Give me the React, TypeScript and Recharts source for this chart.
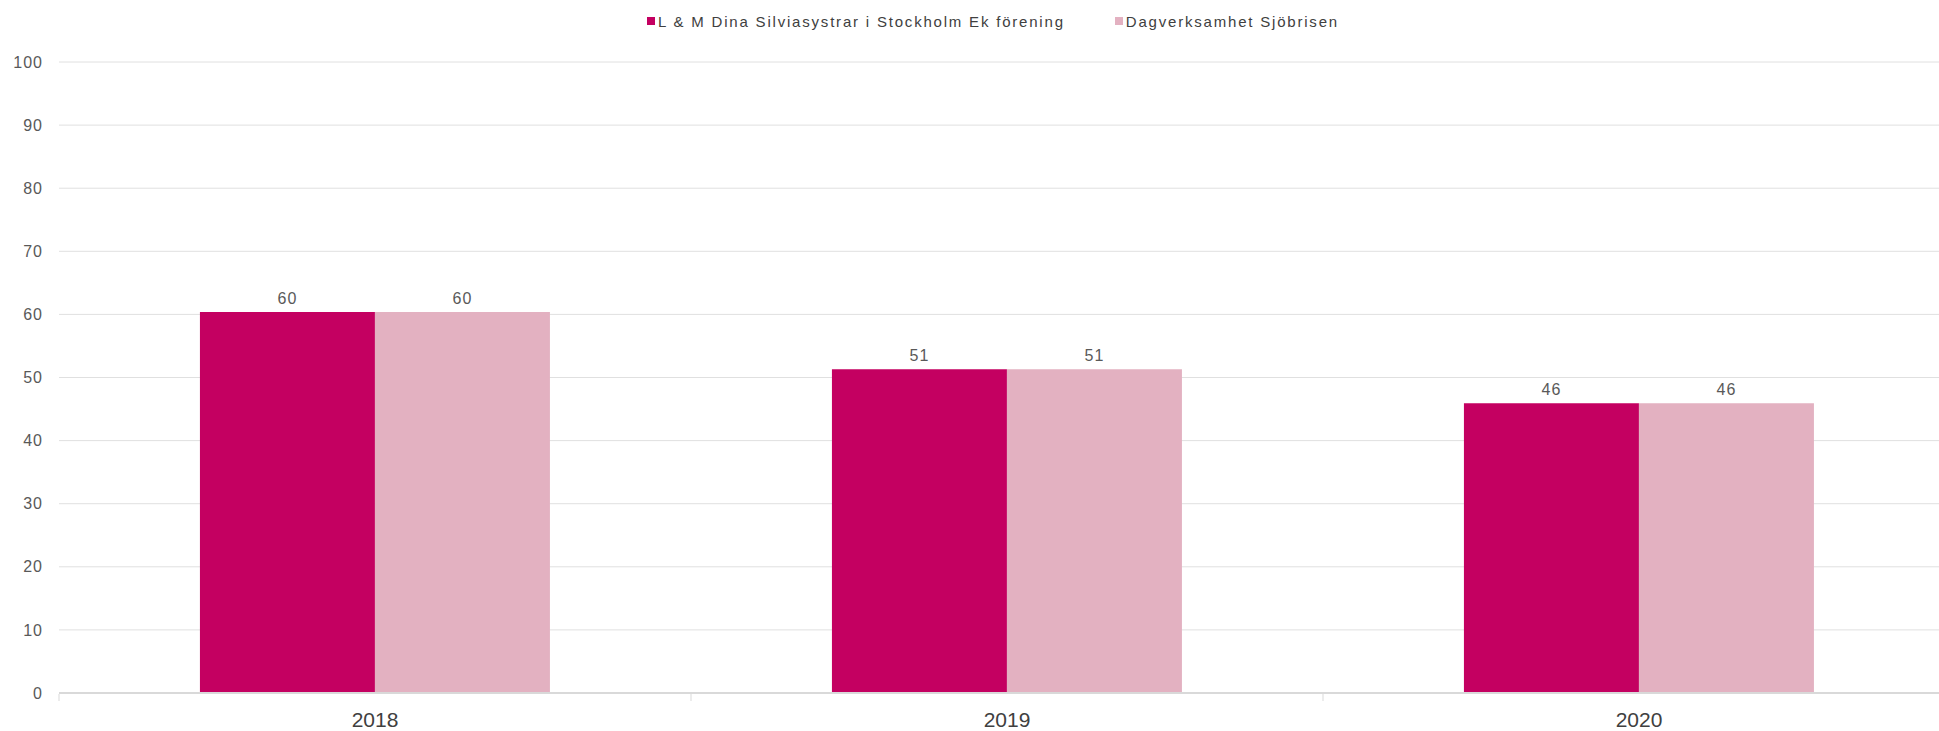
import React from 'react';
import {
  BarChart,
  Bar,
  XAxis,
  YAxis,
  CartesianGrid,
  LabelList
} from 'recharts';

const years = ['2018', '2019', '2020'];
const silviasystrar = [60.4, 51.3, 45.9];
const sjobrisen = [60.4, 51.3, 45.9];
const yTicks = [0, 10, 20, 30, 40, 50, 60, 70, 80, 90, 100];

const seriesNames = ['L & M Dina Silviasystrar i Stockholm Ek förening', 'Dagverksamhet Sjöbrisen'];
const seriesColors = ['#c40061', '#e3b1c1'];

const data = years.map((year, i) => ({
  year,
  silviasystrar: silviasystrar[i],
  sjobrisen: sjobrisen[i]
}));

const FONT = '"Liberation Sans", Arial, sans-serif';

// x-axis tick: year label plus a small mark at the left edge of the band
const YearTick = (props: any) => {
  const { x, y, payload } = props;
  const half = payload && payload.offset ? payload.offset : 316;
  return (
    <g>
      <line x1={x - half} y1={y - 18} x2={x - half} y2={y - 11} stroke="#d9d9d9" strokeWidth={1} />
      <text x={x} y={y} dy="0.71em" textAnchor="middle" fill="#404040" fontSize={21} fontFamily={FONT}>
        {payload.value}
      </text>
    </g>
  );
};

export default function App() {
  return (
    <div style={{ position: 'fixed', left: 0, top: 0, width: 1939, height: 731, overflow: 'hidden', background: '#fff', fontFamily: FONT }}>
      {/* legend */}
      <div style={{ position: 'absolute', left: 647, top: 11, height: 20, display: 'flex', alignItems: 'center', fontSize: 15, letterSpacing: 1.8, color: '#404040', whiteSpace: 'nowrap' }}>
        {seriesNames.map((name, i) => (
          <div key={name} style={{ display: 'flex', alignItems: 'center', marginRight: i === 0 ? 50 : 0 }}>
            <span style={{ display: 'inline-block', width: 8, height: 8, background: seriesColors[i], marginRight: 3 }} />
            <span>{name}</span>
          </div>
        ))}
      </div>

      <BarChart
        width={1955}
        height={731}
        data={data}
        margin={{ top: 62, right: 0, left: 0, bottom: 0 }}
        barCategoryGap="22.3%"
        barGap={0}
      >
        <CartesianGrid vertical={false} stroke="#e0e0e0" strokeWidth={1} />
        <XAxis
          dataKey="year"
          height={38}
          axisLine={{ stroke: '#d9d9d9', strokeWidth: 2 }}
          tickLine={false}
          tickSize={6}
          tickMargin={13}
          tick={<YearTick />}
          interval={0}
        />
        <YAxis
          width={59}
          domain={[0, 100]}
          ticks={yTicks}
          axisLine={false}
          tickLine={false}
          tickSize={6}
          tickMargin={10}
          tick={{ fontSize: 16, fill: '#595959', fontFamily: FONT, letterSpacing: 1 }}
        />
        <Bar dataKey="silviasystrar" fill={seriesColors[0]} isAnimationActive={false}>
          <LabelList
            dataKey="silviasystrar"
            position="top"
            offset={8}
            formatter={(v: any) => Math.round(Number(v))}
            style={{ fontSize: 16, fill: '#595959', fontFamily: FONT, letterSpacing: 1 }}
          />
        </Bar>
        <Bar dataKey="sjobrisen" fill={seriesColors[1]} isAnimationActive={false}>
          <LabelList
            dataKey="sjobrisen"
            position="top"
            offset={8}
            formatter={(v: any) => Math.round(Number(v))}
            style={{ fontSize: 16, fill: '#595959', fontFamily: FONT, letterSpacing: 1 }}
          />
        </Bar>
      </BarChart>
    </div>
  );
}
